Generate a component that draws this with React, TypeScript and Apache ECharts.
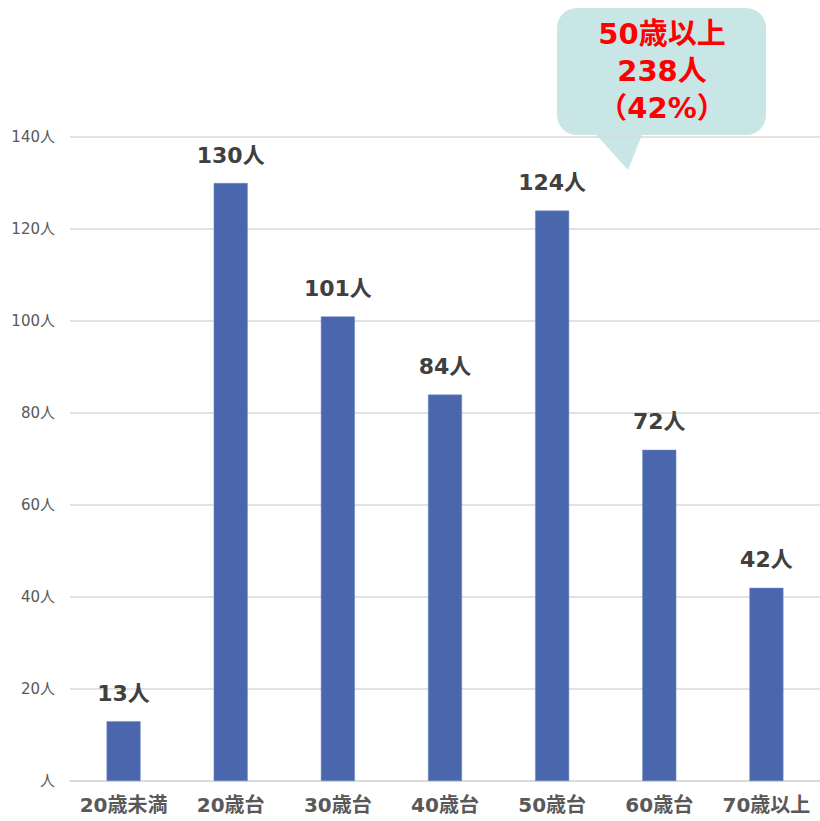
import React, { useEffect, useRef } from "react";
import * as echarts from "echarts";

const categories = ["20歳未満", "20歳台", "30歳台", "40歳台", "50歳台", "60歳台", "70歳以上"];
const values = [13, 130, 101, 84, 124, 72, 42];
const yTicks = [0, 20, 40, 60, 80, 100, 120, 140];
const calloutLines = ["50歳以上", "238人", "（42%）"];

const FONT = "'DejaVu Sans', 'Noto Sans CJK JP', sans-serif";

export default function App() {
  const ref = useRef<HTMLDivElement>(null);
  useEffect(() => {
    document.body.style.margin = "0";
    const chart = echarts.init(ref.current!, null, { renderer: "svg" });
    chart.setOption({
      animation: false,
      backgroundColor: "#ffffff",
      grid: { left: 70, right: -3, top: 137, bottom: 40, containLabel: false },
      xAxis: {
        type: "category",
        data: categories,
        axisLine: { show: true, lineStyle: { color: "#d9d9d9", width: 1.5 } },
        axisTick: { show: false },
        axisLabel: {
          color: "#595959",
          fontSize: 20,
          fontWeight: "bold",
          fontFamily: FONT,
          margin: 14,
          interval: 0,
        },
      },
      yAxis: {
        type: "value",
        min: yTicks[0],
        max: yTicks[yTicks.length - 1],
        interval: 20,
        axisLine: { show: false },
        axisTick: { show: false },
        splitLine: { lineStyle: { color: "#d9d9d9", width: 1.5 } },
        axisLabel: {
          color: "#595959",
          fontSize: 15,
          fontFamily: FONT,
          margin: 15,
          formatter: (v: number) => (v === 0 ? "人" : v + "人"),
        },
      },
      series: [
        {
          type: "bar",
          data: values,
          barWidth: 34,
          itemStyle: { color: "#4a67ae", borderColor: "#6f88c4", borderWidth: 0.5 },
          label: {
            show: true,
            position: "top",
            distance: 17,
            color: "#404040",
            fontSize: 22,
            fontWeight: "bold",
            fontFamily: FONT,
            formatter: (p: any) => p.value + "人",
          },
        },
      ],
      graphic: [
        {
          type: "group",
          z: 100,
          children: [
            {
              type: "polygon",
              shape: { points: [[592, 130], [644, 130], [628, 170]] },
              style: { fill: "#c9e6e7" },
            },
            {
              type: "rect",
              shape: { x: 557, y: 8, width: 209, height: 127, r: 20 },
              style: { fill: "#c9e6e7" },
            },
            ...calloutLines.map((t, i) => ({
              type: "text",
              x: 662,
              y: 34 + i * 37,
              style: {
                text: t,
                fill: "#ff0000",
                fontSize: 29,
                fontWeight: "bold",
                fontFamily: FONT,
                align: "center",
                verticalAlign: "middle",
              },
            })),
          ],
        },
      ],
    });
    return () => chart.dispose();
  }, []);
  return <div ref={ref} style={{ width: 820, height: 821 }} />;
}
